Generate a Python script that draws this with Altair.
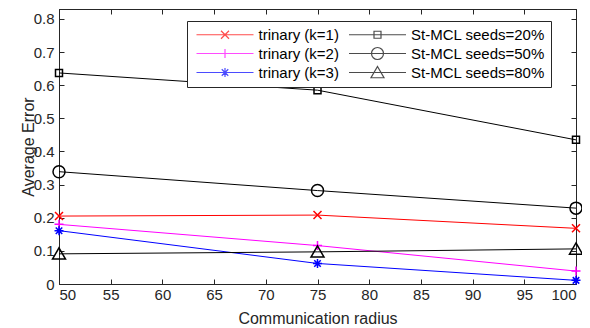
import altair as alt
import pandas as pd

radius = [50, 75, 100]
series_names = ["trinary (k=1)", "trinary (k=2)", "trinary (k=3)",
                "St-MCL seeds=20%", "St-MCL seeds=50%", "St-MCL seeds=80%"]
k1 = [0.205, 0.208, 0.168]
k2 = [0.180, 0.116, 0.039]
k3 = [0.161, 0.062, 0.011]
s20 = [0.637, 0.585, 0.435]
s50 = [0.339, 0.282, 0.229]
s80 = [0.091, 0.097, 0.106]
x_ticks = [50, 55, 60, 65, 70, 75, 80, 85, 90, 95, 100]
y_ticks = [0, 0.1, 0.2, 0.3, 0.4, 0.5, 0.6, 0.7, 0.8]

values = {"trinary (k=1)": k1, "trinary (k=2)": k2, "trinary (k=3)": k3,
          "St-MCL seeds=20%": s20, "St-MCL seeds=50%": s50, "St-MCL seeds=80%": s80}
rows = []
for name in series_names:
    for r, v in zip(radius, values[name]):
        rows.append({"series": name, "radius": r, "err": v})
df = pd.DataFrame(rows)

colors = {"trinary (k=1)": "#ff0000", "trinary (k=2)": "#ff00ff", "trinary (k=3)": "#0000ff",
          "St-MCL seeds=20%": "#000000", "St-MCL seeds=50%": "#000000", "St-MCL seeds=80%": "#000000"}
marker = {
    "trinary (k=1)": "M-0.8,-0.8L0.8,0.8M-0.8,0.8L0.8,-0.8",
    "trinary (k=2)": "M-0.9,0H0.9M0,-0.9V0.9",
    "trinary (k=3)": "M-0.9,0H0.9M0,-0.9V0.9M-0.65,-0.65L0.65,0.65M-0.65,0.65L0.65,-0.65",
    "St-MCL seeds=20%": "M-0.7,-0.7H0.7V0.7H-0.7Z",
    "St-MCL seeds=50%": "M-1.2,0A1.2,1.2,0,1,0,1.2,0A1.2,1.2,0,1,0,-1.2,0Z",
    "St-MCL seeds=80%": "M0,-1.2L1.3,1.05L-1.3,1.05Z",
}
legend_line = "M-5.7,0H5.7"

FG = "#262626"
xscale = alt.Scale(domain=[50, 100], nice=False, zero=False)
yscale = alt.Scale(domain=[0, 0.83], nice=False, zero=True)
color_scale = alt.Scale(domain=series_names, range=[colors[n] for n in series_names])
shape_scale = alt.Scale(domain=series_names, range=[marker[n] for n in series_names])
legend_shape_scale = alt.Scale(domain=series_names,
                               range=[legend_line + marker[n] for n in series_names])

legend = alt.Legend(
    title=None, orient="none", legendX=128, legendY=12, columns=2,
    fillColor="white", strokeColor=FG, padding=6, cornerRadius=0,
    labelFontSize=15, labelColor="#000000", labelOffset=26, symbolOffset=24.5,
    columnPadding=6.5, rowPadding=2, symbolSize=100, symbolStrokeWidth=1.2,
    symbolFillColor="transparent",
)

ax_common = dict(grid=False, domain=False, tickSize=5, offset=-5, tickColor=FG,
                 labelColor=FG, titleColor=FG, labelFontSize=15, titleFontSize=16,
                 titleFontWeight="normal")
frame_ax = dict(grid=False, domain=True, domainColor=FG, domainWidth=1, ticks=False,
                labels=False, title=None, offset=0)

lines = alt.Chart(df).mark_line(strokeWidth=1).encode(
    x=alt.X("radius:Q", scale=xscale,
            axis=alt.Axis(orient="bottom", values=x_ticks, title="Communication radius",
                          labelPadding=3, titlePadding=8, **ax_common)),
    y=alt.Y("err:Q", scale=yscale,
            axis=alt.Axis(orient="left", values=y_ticks, format="~g", title="Average Error",
                          labelPadding=5, titlePadding=-3, **ax_common)),
    color=alt.Color("series:N", scale=color_scale, legend=None),
    detail="series:N",
)

points = alt.Chart(df).mark_point(filled=False, size=100, strokeWidth=1.5, opacity=1).encode(
    x=alt.X("radius:Q", scale=xscale, axis=None),
    y=alt.Y("err:Q", scale=yscale, axis=None),
    color=alt.Color("series:N", scale=color_scale, legend=None),
    shape=alt.Shape("series:N", scale=shape_scale, legend=None),
)

ghost = alt.Chart(df).mark_point(opacity=0).encode(
    x=alt.X("radius:Q", scale=xscale,
            axis=alt.Axis(orient="top", values=x_ticks, labels=False, title=None, grid=False,
                          domain=False, tickSize=5, offset=-5, tickColor=FG)),
    y=alt.Y("err:Q", scale=yscale,
            axis=alt.Axis(orient="right", values=y_ticks, labels=False, title=None, grid=False,
                          domain=False, tickSize=5, offset=-5, tickColor=FG)),
)

frame_bl = alt.Chart(df).mark_point(opacity=0).encode(
    x=alt.X("radius:Q", scale=xscale, axis=alt.Axis(orient="bottom", **frame_ax)),
    y=alt.Y("err:Q", scale=yscale, axis=alt.Axis(orient="left", **frame_ax)),
)
frame_tr = alt.Chart(df).mark_point(opacity=0).encode(
    x=alt.X("radius:Q", scale=xscale, axis=alt.Axis(orient="top", **frame_ax)),
    y=alt.Y("err:Q", scale=yscale, axis=alt.Axis(orient="right", **frame_ax)),
)

legend_layer = alt.Chart(df).transform_filter("false").mark_point(
    filled=False, size=100, strokeWidth=1.2
).encode(
    color=alt.Color("series:N", scale=color_scale, legend=legend),
    shape=alt.Shape("series:N", scale=legend_shape_scale, legend=legend),
)

chart = alt.layer(lines, points, ghost, frame_bl, frame_tr, legend_layer).resolve_axis(
    x="independent", y="independent"
).resolve_scale(
    color="independent", shape="independent"
).properties(
    width=517, height=275,
    padding={"left": 51, "top": 1, "right": 6, "bottom": 44},
    autosize=alt.AutoSizeParams(type="none"),
).configure(font="Liberation Sans").configure_view(stroke=FG, strokeWidth=1)

chart.save("out.html", embed_options={"renderer": "svg", "actions": False})
